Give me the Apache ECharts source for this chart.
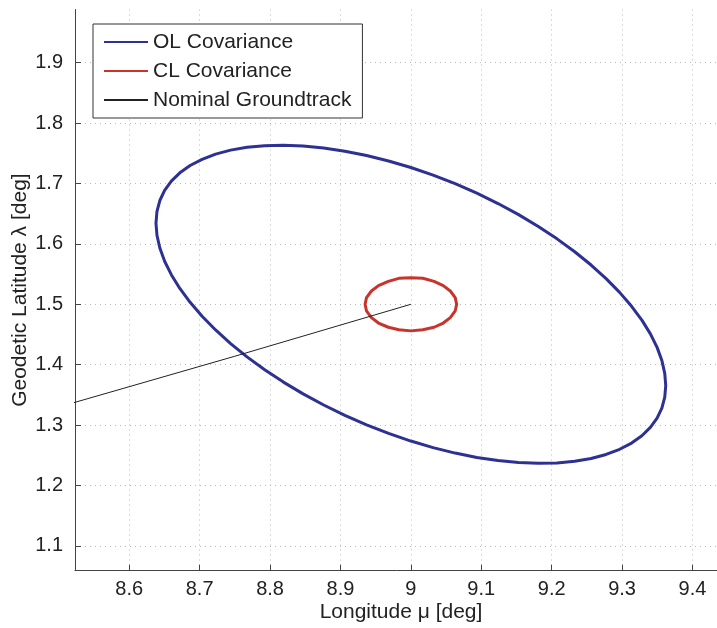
<!DOCTYPE html>
<html>
<head>
<meta charset="utf-8">
<script src="https://cdn.jsdelivr.net/npm/echarts@6/dist/echarts.min.js"></script>
<style>html,body{margin:0;padding:0;background:#fff;}#c{width:717px;height:628px;}</style>
</head>
<body>
<div id="c"></div>
<script>
// Tick values
const xTicks = [8.6, 8.7, 8.8, 8.9, 9.0, 9.1, 9.2, 9.3, 9.4];
const yTicks = [1.1, 1.2, 1.3, 1.4, 1.5, 1.6, 1.7, 1.8, 1.9];
const xRange = [8.523, 9.449];
const yRange = [1.059, 1.988];

// OL covariance ellipse, points read around the curve
const olLon = [9.3620, 9.3606, 9.3565, 9.3497, 9.3402, 9.3281, 9.3135, 9.2965, 9.2773, 9.2560, 9.2327, 9.2076,
               9.1810, 9.1530, 9.1238, 9.0937, 9.0629, 9.0316, 9.0000, 8.9684, 8.9371, 8.9063, 8.8762, 8.8470,
               8.8190, 8.7924, 8.7673, 8.7440, 8.7227, 8.7035, 8.6865, 8.6719, 8.6598, 8.6503, 8.6435, 8.6394,
               8.6380, 8.6394, 8.6435, 8.6503, 8.6598, 8.6719, 8.6865, 8.7035, 8.7227, 8.7440, 8.7673, 8.7924,
               8.8190, 8.8470, 8.8762, 8.9063, 8.9371, 8.9684, 9.0000, 9.0316, 9.0629, 9.0937, 9.1238, 9.1530,
               9.1810, 9.2076, 9.2327, 9.2560, 9.2773, 9.2965, 9.3135, 9.3281, 9.3402, 9.3497, 9.3565, 9.3606];
const olLat = [1.3655, 1.3857, 1.4069, 1.4287, 1.4510, 1.4738, 1.4967, 1.5197, 1.5425, 1.5650, 1.5870, 1.6083,
               1.6288, 1.6484, 1.6668, 1.6839, 1.6996, 1.7138, 1.7264, 1.7373, 1.7463, 1.7535, 1.7588, 1.7620,
               1.7633, 1.7626, 1.7599, 1.7552, 1.7486, 1.7400, 1.7297, 1.7176, 1.7038, 1.6885, 1.6718, 1.6537,
               1.6345, 1.6143, 1.5932, 1.5713, 1.5490, 1.5262, 1.5033, 1.4803, 1.4575, 1.4350, 1.4130, 1.3917,
               1.3712, 1.3517, 1.3333, 1.3161, 1.3004, 1.2862, 1.2736, 1.2627, 1.2537, 1.2465, 1.2413, 1.2380,
               1.2367, 1.2374, 1.2401, 1.2448, 1.2514, 1.2600, 1.2703, 1.2824, 1.2962, 1.3115, 1.3282, 1.3463];

// CL covariance ellipse
const clLon = [9.065, 9.063, 9.056, 9.046, 9.033, 9.017, 9.000, 8.983, 8.968, 8.954, 8.944, 8.937,
               8.935, 8.937, 8.944, 8.954, 8.968, 8.983, 9.000, 9.017, 9.033, 9.046, 9.056, 9.063];
const clLat = [1.500, 1.511, 1.522, 1.531, 1.538, 1.543, 1.544, 1.543, 1.538, 1.531, 1.522, 1.511,
               1.500, 1.489, 1.478, 1.469, 1.462, 1.458, 1.456, 1.458, 1.462, 1.469, 1.478, 1.489];

// Nominal groundtrack
const gtLon = [8.50, 8.75, 9.00];
const gtLat = [1.330, 1.414, 1.500];

const closed = (xs, ys) => xs.map((x, i) => [x, ys[i]]).concat([[xs[0], ys[0]], [xs[1], ys[1]]]);
const pairs = (xs, ys) => xs.map((x, i) => [x, ys[i]]);

const FONT = '"Liberation Sans", Arial, Helvetica, sans-serif';
const chart = echarts.init(document.getElementById('c'), null, {renderer: 'canvas'});
const gridLine = {show: true, lineStyle: {color: '#b8b8b8', type: [1, 4], width: 1}};
chart.setOption({
  animation: false,
  backgroundColor: '#ffffff',
  grid: {left: 75, top: 9.5, right: -10, bottom: 57.3, containLabel: false, outerBoundsMode: 'none'},
  xAxis: {
    type: 'value', min: xRange[0], max: xRange[1],
    name: 'Longitude μ [deg]', nameLocation: 'middle', nameGap: 31, nameMoveOverlap: false,
    nameTextStyle: {fontFamily: FONT, fontSize: 21, color: '#222'},
    axisLine: {show: true, onZero: false, lineStyle: {color: '#444', width: 1}},
    axisTick: {show: true, inside: true, length: 6, customValues: xTicks, lineStyle: {color: '#444'}},
    axisLabel: {customValues: xTicks, margin: 9, fontFamily: FONT, fontSize: 20, color: '#222',
                formatter: v => String(+v.toFixed(2))},
    splitLine: gridLine
  },
  yAxis: {
    type: 'value', min: yRange[0], max: yRange[1],
    name: 'Geodetic Latitude λ [deg]', nameLocation: 'middle', nameGap: 44, nameMoveOverlap: false,
    nameTextStyle: {fontFamily: FONT, fontSize: 21, color: '#222'},
    axisLine: {show: true, onZero: false, lineStyle: {color: '#444', width: 1}},
    axisTick: {show: true, inside: true, length: 6, customValues: yTicks, lineStyle: {color: '#444'}},
    axisLabel: {customValues: yTicks, margin: 12, fontFamily: FONT, fontSize: 20, color: '#222',
                formatter: v => String(+v.toFixed(2))},
    splitLine: gridLine
  },
  legend: {
    left: 93, top: 24, orient: 'vertical',
    itemWidth: 44, itemHeight: 14, itemGap: 8,
    padding: [7.5, 11, 7.5, 10],
    borderColor: '#333', borderWidth: 1, backgroundColor: '#fff',
    itemStyle: {opacity: 0},
    textStyle: {fontFamily: FONT, fontSize: 21, color: '#222'},
    data: ['OL Covariance', 'CL Covariance', 'Nominal Groundtrack']
  },
  series: [
    {name: 'OL Covariance', type: 'line', data: closed(olLon, olLat),
     symbol: 'none', lineStyle: {color: '#2d3191', width: 3, join: 'round'}, itemStyle: {color: '#2d3191'}},
    {name: 'CL Covariance', type: 'line', data: closed(clLon, clLat),
     symbol: 'none', lineStyle: {color: '#c8342c', width: 3, join: 'round'}, itemStyle: {color: '#c8342c'}},
    {name: 'Nominal Groundtrack', type: 'line', data: pairs(gtLon, gtLat),
     symbol: 'none', lineStyle: {color: '#222', width: 1}, itemStyle: {color: '#222'}}
  ]
});
</script>
</body>
</html>
